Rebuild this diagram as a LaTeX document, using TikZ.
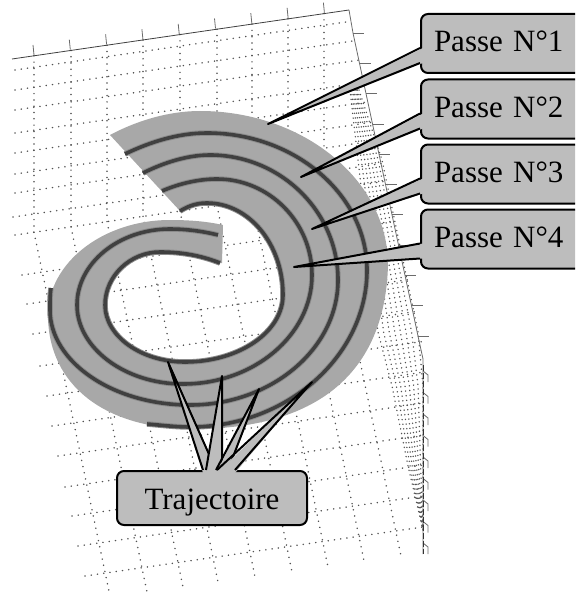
\documentclass[tikz,border=0pt]{standalone}
\usepackage{fontspec}
\setmainfont{Liberation Serif}
\usetikzlibrary{calc}
\definecolor{bandgray}{gray}{0.66}
\definecolor{boxgray}{gray}{0.74}
\definecolor{tracegray}{gray}{0.25}
\tikzset{
  griddot/.style={black!68, line width=1.6pt, line cap=round, dash pattern=on 0.1pt off 6.2pt},
  densedot/.style={black!68, line width=1.5pt, line cap=round, dash pattern=on 0.1pt off 4.6pt},
  axisline/.style={black!58, line width=0.8pt},
  trace/.style={tracegray, line width=3.6pt, line join=round},
  halo/.style={black!45, line width=5.5pt, line join=round},
  passe/.style={draw=black, fill=boxgray, line width=2pt, rounded corners=7pt, anchor=west,
    minimum width=175pt, minimum height=59pt, inner xsep=13pt, text width=149pt,
    text height=22pt, text depth=5pt, font=\fontsize{31}{31}\selectfont},
  trajet/.style={draw=black, fill=boxgray, line width=2pt, rounded corners=7pt,
    minimum width=190pt, minimum height=54pt, text height=22pt, text depth=0pt,
    font=\fontsize{31}{31}\selectfont},
  boxtail/.style={draw=black, line width=2pt, line join=round},
}
\begin{document}
\begin{tikzpicture}[x=1pt, y=-1pt]
  \useasboundingbox (0,0) rectangle (575,599);
  \clip (0,0) rectangle (575,599);
  % grille: lignes
  \foreach \xa/\ya in {15/70,15/90,15/110,15/133,15/153,15/174,15/193,13/217,15/235,
      22/275,27/304,33/334,40/366,47/396,52/426,58/456,65/487,72/516,78/546,85/576}{
    \pgfmathsetmacro\xb{min(423,(349+.222*(\ya+.145*\xa-10))/1.0322)}
    \pgfmathsetmacro\yb{\ya-.145*(\xb-\xa)}
    \draw[griddot] (\xa,\ya) -- (\xb,\yb);
  }
  % grille: colonnes
  \foreach \xa/\xb/\yb in {34/110/596,71/147/592,107/183/587,143/218/582,180/255/577,
      217/292/572,252/328/567,288/364/561,324/401/556}{
    \pgfmathsetmacro\ya{59-.1458*(\xa-12)}
    \pgfmathsetmacro\yf{235-.145*(\xa-15)}
    \draw[griddot] (\xa,\ya) -- (\xa,\yf) -- (\xb,\yb);
  }
  % zone dense a droite
  \foreach \t in {0,0.14,0.28,0.42,0.56,0.7,0.84,1}{
    \draw[densedot] ($(350,90)!\t!(359,90)$) -- ($(358,160)!\t!(382,160)$) -- ($(378,332)!\t!(418,332)$)
      -- ($(392,386)!\t!(423,386)$) -- ($(408,466)!\t!(423,466)$) -- (423,530);
  }
  % axes
  \draw[axisline, black!75] (12,59) -- (349,10);
  \draw[axisline] (349,10) -- (353,33) -- (418,336) -- (423,359) -- (423,554);
  \foreach \i in {0,...,8}{
    \draw[axisline] ({34+36.3*\i},{55-5.3*\i}) -- ++(-1,-10);
  }
  \foreach \i in {0,...,10}{
    \draw[axisline] ({353+.215*30.3*\i},{33+30.3*\i}) -- ++(11,0);
  }
  \foreach \i in {0,...,8}{
    \draw[axisline] (423,{371+21.5*\i}) -- ++(5,4) -- ++(0,7);
  }
  \draw[black!80, line width=0.8pt, dash pattern=on 6pt off 2pt] (423,365) -- (423,554);
  % spirale
  \fill[bandgray] (110,135) .. controls (138,120) and (170,111) .. (200,111)
      .. controls (303,111) and (388,180) .. (388,265)
      .. controls (385,375) and (315,429) .. (193,429)
      .. controls (105,429) and (48,385) .. (48,315)
      .. controls (48,263) and (103,220) .. (170,220)
      .. controls (187,220) and (205,221) .. (223,225)
      -- (222,263) -- (220,263)
      .. controls (200,255) and (180,252) .. (160,252)
      .. controls (130,252) and (105,276) .. (105,305)
      .. controls (105,336) and (141,362) .. (185,362)
      .. controls (239,362) and (283,332) .. (283,295)
      .. controls (283,244) and (249,203) .. (207,203)
      .. controls (198,203) and (190,205) .. (180,211) -- cycle;
  \foreach \sty in {halo,trace}{
    \begin{scope}[\sty]
      \draw (125,154) .. controls (150,142) and (178,133) .. (207,133)
        .. controls (295,133) and (367,195) .. (367,270)
        .. controls (367,356) and (287,427) .. (190,427)
        .. controls (175,427) and (160,425) .. (147,424);
      \draw (143,173) .. controls (163,163) and (187,155) .. (210,155)
        .. controls (280,155) and (338,211) .. (338,280)
        .. controls (338,349) and (271,405) .. (190,405)
        .. controls (113,405) and (50,362) .. (50,310)
        .. controls (50,300) and (50,295) .. (51,288);
      \draw (162,191) .. controls (178,184) and (198,179) .. (217,179)
        .. controls (269,179) and (312,222) .. (312,275)
        .. controls (312,335) and (254,384) .. (183,384)
        .. controls (125,384) and (77,348) .. (77,305)
        .. controls (77,263) and (119,229) .. (170,229)
        .. controls (185,229) and (202,231) .. (218,235);
      \draw (180,211) .. controls (190,205) and (198,203) .. (207,203)
        .. controls (249,203) and (283,244) .. (283,295)
        .. controls (283,332) and (239,362) .. (185,362)
        .. controls (141,362) and (105,336) .. (105,305)
        .. controls (105,276) and (130,252) .. (160,252)
        .. controls (180,252) and (200,255) .. (220,263);
    \end{scope}
  }
  % etiquettes
  \node[passe] (passeA) at (420,43.5) {Passe N°1};
  \node[passe] (passeB) at (420,109) {Passe N°2};
  \node[passe] (passeC) at (420,174) {Passe N°3};
  \node[passe] (passeD) at (420,239) {Passe N°4};
  \node[trajet] (trajet) at (212,498) {Trajectoire};
  \coordinate (tipA) at (268,124);
  \coordinate (tipB) at (301,177);
  \coordinate (tipC) at (312,229);
  \coordinate (tipD) at (294,267);
  \coordinate (tipE) at (168,362);
  \coordinate (tipF) at (222,376);
  \coordinate (tipG) at (259,389);
  \coordinate (tipH) at (312,382);
  \foreach \nom/\tip in {passeA/tipA,passeB/tipB,passeC/tipC,passeD/tipD}{
    \fill[boxgray] ($(\nom.west)+(3,4.5)$) -- (\tip) -- ($(\nom.west)+(3,19.5)$) -- cycle;
    \draw[boxtail] ($(\nom.west)+(0,4.5)$) -- (\tip) -- ($(\nom.west)+(0,19.5)$);
  }
  \foreach \tip/\ba/\bb in {tipE/-9/4,tipF/-6/10,tipG/4/16,tipH/5/23}{
    \fill[boxgray] ($(trajet.north)+(\ba,3)$) -- (\tip) -- ($(trajet.north)+(\bb,3)$) -- cycle;
    \draw[boxtail] ($(trajet.north)+(\ba,0)$) -- (\tip) -- ($(trajet.north)+(\bb,0)$);
  }
\end{tikzpicture}
\end{document}
